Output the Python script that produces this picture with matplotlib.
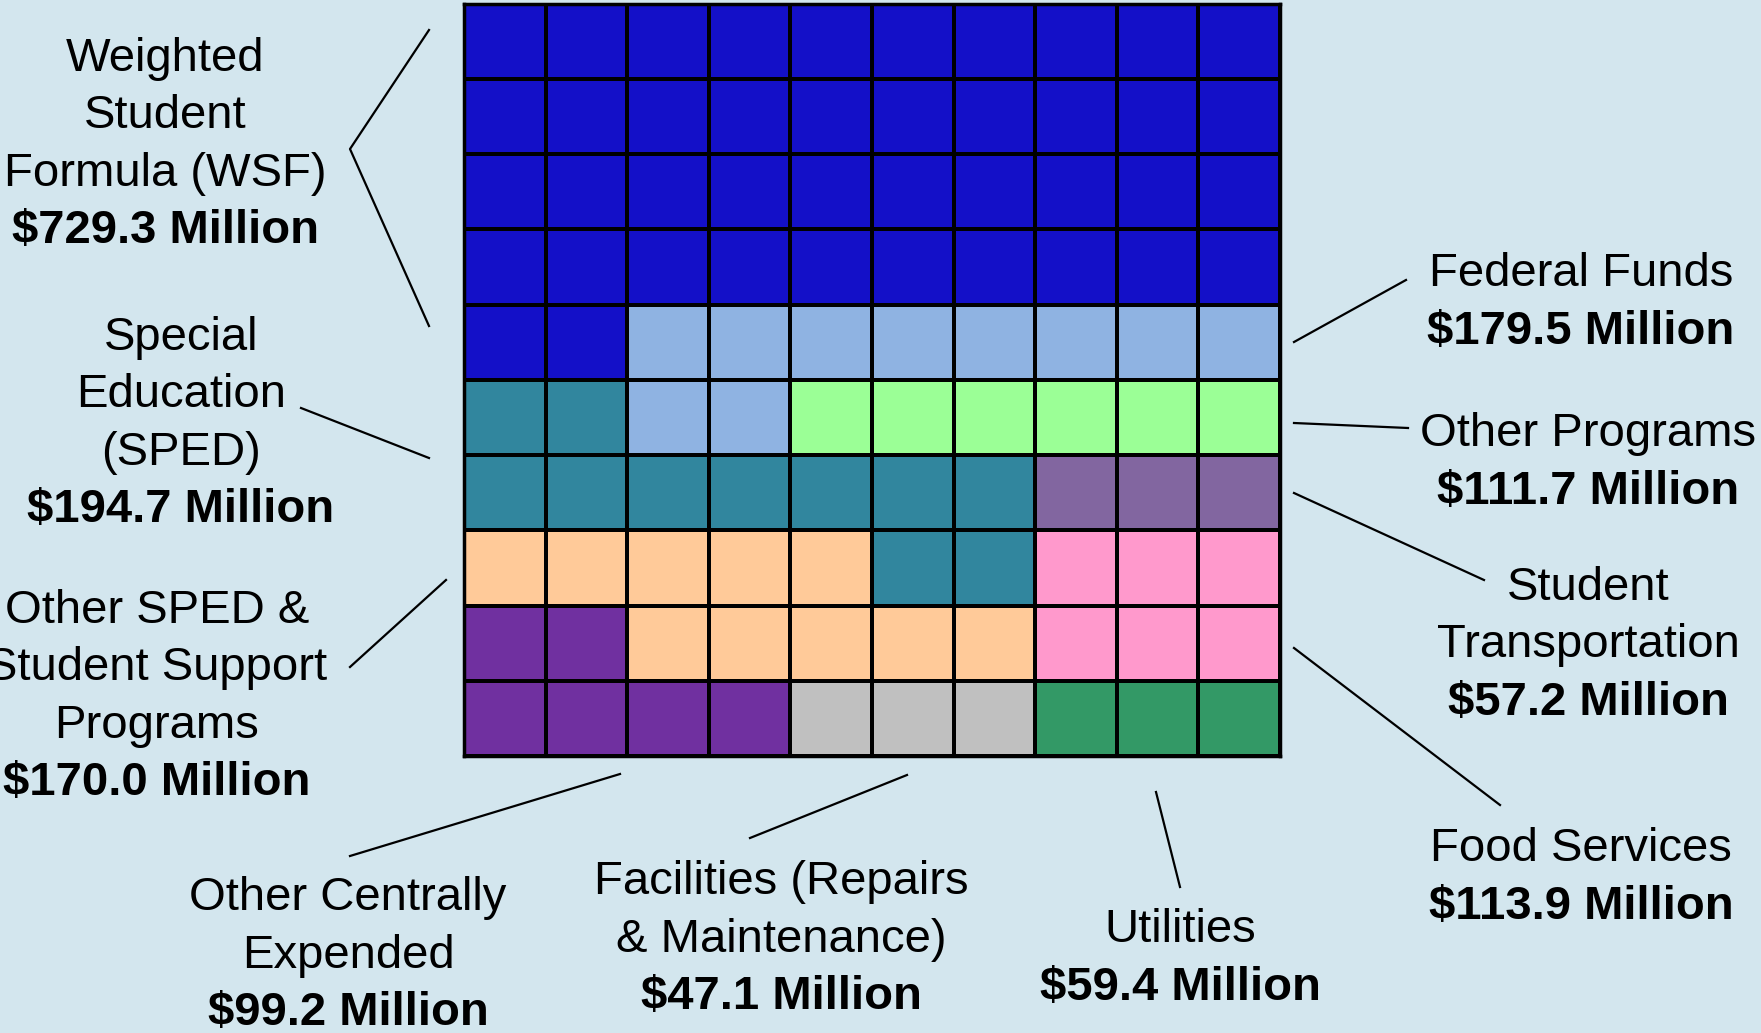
import matplotlib.pyplot as plt
import numpy as np
from matplotlib.colors import ListedColormap

plt.rcParams['font.family'] = ['Liberation Sans', 'DejaVu Sans']

# categories (code, name lines, amount) and cell colours
codes = ["W", "F", "P", "S", "T", "O", "C", "R", "U", "D"]
names = ["Weighted\nStudent\nFormula (WSF)",
         "Federal Funds",
         "Other Programs",
         "Special\nEducation\n(SPED)",
         "Student\nTransportation",
         "Other SPED &\nStudent Support\nPrograms",
         "Other Centrally\nExpended",
         "Facilities (Repairs\n& Maintenance)",
         "Utilities",
         "Food Services"]
amounts = ["$729.3 Million", "$179.5 Million", "$111.7 Million", "$194.7 Million",
           "$57.2 Million", "$170.0 Million", "$99.2 Million", "$47.1 Million",
           "$59.4 Million", "$113.9 Million"]
colors = ["#1410c8", "#8fb3e2", "#9bff96", "#31869e", "#8266a0",
          "#ffca99", "#7030a0", "#c0c0c0", "#339966", "#ff99cc"]

# 10x10 waffle layout, top row first (one cell = 1%)
layout = ["WWWWWWWWWW",
          "WWWWWWWWWW",
          "WWWWWWWWWW",
          "WWWWWWWWWW",
          "WWFFFFFFFF",
          "SSFFPPPPPP",
          "SSSSSSSTTT",
          "OOOOOSSDDD",
          "CCOOOOODDD",
          "CCCCRRRUUU"]

W, H = 1761, 1033
bg = "#d3e6ee"
fig = plt.figure(figsize=(W / 100, H / 100), dpi=100, facecolor=bg)

# waffle grid
ax = fig.add_axes([464 / W, 1 - 756 / H, (1280 - 464) / W, (756 - 3.5) / H])
grid = np.array([[codes.index(c) for c in row] for row in layout])
ax.pcolormesh(grid, cmap=ListedColormap(colors), vmin=-0.5, vmax=len(codes) - 0.5,
              edgecolors="black", linewidth=2.6)
ax.set_xlim(0, 10)
ax.set_ylim(10, 0)
ax.set_xticks([])
ax.set_yticks([])
for s in ax.spines.values():
    s.set_linewidth(2.5)

# overlay in pixel coordinates for labels + leader lines
ov = fig.add_axes([0, 0, 1, 1], facecolor="none")
ov.set_xlim(0, W)
ov.set_ylim(H, 0)
ov.axis("off")

# (label centre x, block centre y, leader line points)
label_pos = {
    "W": (165, 145, [(429, 30), (350, 149), (429, 326)]),
    "F": (1581, 303, [(1406, 280), (1294, 342)]),
    "P": (1588, 463, [(1408, 428), (1294, 423)]),
    "S": (181, 424, [(301, 408), (429, 458)]),
    "T": (1588, 645, [(1484, 580), (1294, 493)]),
    "O": (157, 697, [(350, 667), (446, 580)]),
    "C": (348, 956, [(350, 856), (620, 774)]),
    "R": (781, 940, [(750, 838), (907, 775)]),
    "U": (1180, 959, [(1180, 887), (1156, 792)]),
    "D": (1581, 878, [(1500, 805), (1294, 648)]),
}
step = 57.5
for code, name, amt in zip(codes, names, amounts):
    cx, cy, pts = label_pos[code]
    lines = name.split("\n")
    n = len(lines) + 1
    y0 = cy - (n - 1) * step / 2
    for i, ln in enumerate(lines):
        ov.text(cx, y0 + i * step, ln, ha="center", va="center", fontsize=34)
    ov.text(cx, y0 + len(lines) * step, amt, ha="center", va="center",
            fontsize=34, fontweight="bold")
    xs, ys = zip(*pts)
    ov.plot(xs, ys, color="black", linewidth=1.6)

fig.savefig("out.png", dpi=100, facecolor=bg)
